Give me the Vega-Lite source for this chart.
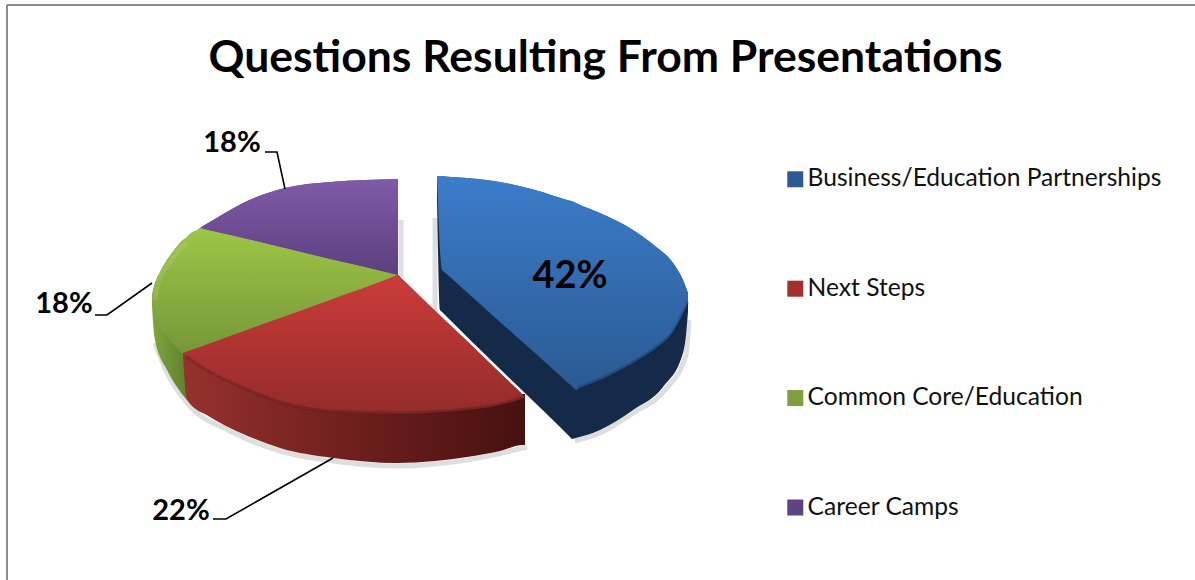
{
  "$schema": "https://vega.github.io/schema/vega-lite/v6.json",
  "width": 1195,
  "height": 580,
  "autosize": "none",
  "padding": 0,
  "background": "white",
  "view": {"stroke": null},
  "title": {
    "text": "Questions Resulting From Presentations",
    "font": "Lato",
    "fontWeight": "bold",
    "fontSize": 44.5,
    "color": "#000000",
    "anchor": "middle",
    "baseline": "alphabetic",
    "dx": 8,
    "offset": -116
  },
  "datasets": {
    "outline": [
      {"slice": "Green side", "x": 152, "y": 298, "y2": 305},
      {"slice": "Green side", "x": 153, "y": 296, "y2": 322},
      {"slice": "Green side", "x": 155, "y": 300, "y2": 340},
      {"slice": "Green side", "x": 167, "y": 315, "y2": 370},
      {"slice": "Green side", "x": 177, "y": 325, "y2": 387},
      {"slice": "Green side", "x": 187, "y": 335, "y2": 400},

      {"slice": "Red side", "x": 183, "y": 353, "y2": 353},
      {"slice": "Red side", "x": 184, "y": 350, "y2": 372},
      {"slice": "Red side", "x": 187, "y": 350, "y2": 400},
      {"slice": "Red side", "x": 210, "y": 365, "y2": 417},
      {"slice": "Red side", "x": 230, "y": 378, "y2": 428},
      {"slice": "Red side", "x": 255, "y": 389, "y2": 439},
      {"slice": "Red side", "x": 280, "y": 398, "y2": 448},
      {"slice": "Red side", "x": 333, "y": 407, "y2": 458},
      {"slice": "Red side", "x": 397, "y": 409, "y2": 463},
      {"slice": "Red side", "x": 435, "y": 408, "y2": 461},
      {"slice": "Red side", "x": 467, "y": 405, "y2": 457},
      {"slice": "Red side", "x": 500, "y": 400, "y2": 451},
      {"slice": "Red side", "x": 523, "y": 394, "y2": 445},
      {"slice": "Red side", "x": 525, "y": 394, "y2": 445},

      {"slice": "Common Core/Education", "x": 152, "y": 295, "y2": 300},
      {"slice": "Common Core/Education", "x": 155, "y": 283, "y2": 313},
      {"slice": "Common Core/Education", "x": 158, "y": 276, "y2": 323},
      {"slice": "Common Core/Education", "x": 167, "y": 260, "y2": 336},
      {"slice": "Common Core/Education", "x": 175, "y": 249, "y2": 346},
      {"slice": "Common Core/Education", "x": 183, "y": 240, "y2": 353},
      {"slice": "Common Core/Education", "x": 186, "y": 238, "y2": 352},
      {"slice": "Common Core/Education", "x": 190, "y": 234, "y2": 350.5},
      {"slice": "Common Core/Education", "x": 198, "y": 229.5, "y2": 347.7},
      {"slice": "Common Core/Education", "x": 200, "y": 228, "y2": 347},
      {"slice": "Common Core/Education", "x": 202, "y": 228.5, "y2": 346.3},
      {"slice": "Common Core/Education", "x": 210, "y": 230.4, "y2": 343.4},
      {"slice": "Common Core/Education", "x": 300, "y": 251.7, "y2": 310.6},
      {"slice": "Common Core/Education", "x": 390, "y": 273, "y2": 278},
      {"slice": "Common Core/Education", "x": 398, "y": 275, "y2": 275},

      {"slice": "Next Steps", "x": 183, "y": 353, "y2": 353},
      {"slice": "Next Steps", "x": 186, "y": 352, "y2": 356},
      {"slice": "Next Steps", "x": 190, "y": 350.5, "y2": 360},
      {"slice": "Next Steps", "x": 200, "y": 347, "y2": 367},
      {"slice": "Next Steps", "x": 230, "y": 336, "y2": 383},
      {"slice": "Next Steps", "x": 255, "y": 327, "y2": 394},
      {"slice": "Next Steps", "x": 280, "y": 318, "y2": 403},
      {"slice": "Next Steps", "x": 330, "y": 300, "y2": 412},
      {"slice": "Next Steps", "x": 390, "y": 278, "y2": 414},
      {"slice": "Next Steps", "x": 395, "y": 276, "y2": 414},
      {"slice": "Next Steps", "x": 398, "y": 275, "y2": 414},
      {"slice": "Next Steps", "x": 401, "y": 278, "y2": 414},
      {"slice": "Next Steps", "x": 410, "y": 286.5, "y2": 414},
      {"slice": "Next Steps", "x": 430, "y": 306, "y2": 413},
      {"slice": "Next Steps", "x": 467, "y": 341, "y2": 410},
      {"slice": "Next Steps", "x": 500, "y": 373, "y2": 405},
      {"slice": "Next Steps", "x": 518, "y": 390, "y2": 400},
      {"slice": "Next Steps", "x": 523, "y": 395, "y2": 398},
      {"slice": "Next Steps", "x": 525, "y": 397, "y2": 397},

      {"slice": "Career Camps", "x": 200, "y": 228, "y2": 228},
      {"slice": "Career Camps", "x": 203, "y": 226, "y2": 228.7},
      {"slice": "Career Camps", "x": 215, "y": 219, "y2": 231.6},
      {"slice": "Career Camps", "x": 243, "y": 203, "y2": 238},
      {"slice": "Career Camps", "x": 285, "y": 188, "y2": 248},
      {"slice": "Career Camps", "x": 330, "y": 182, "y2": 259},
      {"slice": "Career Camps", "x": 365, "y": 180, "y2": 267},
      {"slice": "Career Camps", "x": 398, "y": 179, "y2": 275},

      {"slice": "Blue side", "x": 437, "y": 176, "y2": 200},
      {"slice": "Blue side", "x": 440, "y": 180, "y2": 310},
      {"slice": "Blue side", "x": 442, "y": 200, "y2": 312},
      {"slice": "Blue side", "x": 445, "y": 210, "y2": 315},
      {"slice": "Blue side", "x": 500, "y": 250, "y2": 369},
      {"slice": "Blue side", "x": 560, "y": 300, "y2": 427},
      {"slice": "Blue side", "x": 570, "y": 320, "y2": 437},
      {"slice": "Blue side", "x": 572, "y": 320, "y2": 439},
      {"slice": "Blue side", "x": 574, "y": 320, "y2": 438.5},
      {"slice": "Blue side", "x": 600, "y": 320, "y2": 430},
      {"slice": "Blue side", "x": 633, "y": 320, "y2": 410},
      {"slice": "Blue side", "x": 663, "y": 315, "y2": 387},
      {"slice": "Blue side", "x": 683, "y": 300, "y2": 353},
      {"slice": "Blue side", "x": 686, "y": 300, "y2": 335},
      {"slice": "Blue side", "x": 688, "y": 300, "y2": 312},

      {"slice": "Business/Education Partnerships", "x": 437, "y": 176, "y2": 176},
      {"slice": "Business/Education Partnerships", "x": 442, "y": 176, "y2": 270},
      {"slice": "Business/Education Partnerships", "x": 444, "y": 176.3, "y2": 271.8},
      {"slice": "Business/Education Partnerships", "x": 460, "y": 177.5, "y2": 286},
      {"slice": "Business/Education Partnerships", "x": 500, "y": 182, "y2": 322},
      {"slice": "Business/Education Partnerships", "x": 535, "y": 190, "y2": 353},
      {"slice": "Business/Education Partnerships", "x": 567, "y": 200, "y2": 382},
      {"slice": "Business/Education Partnerships", "x": 574, "y": 202, "y2": 388.2},
      {"slice": "Business/Education Partnerships", "x": 576, "y": 203, "y2": 390},
      {"slice": "Business/Education Partnerships", "x": 578, "y": 204, "y2": 389},
      {"slice": "Business/Education Partnerships", "x": 600, "y": 213, "y2": 380},
      {"slice": "Business/Education Partnerships", "x": 633, "y": 230, "y2": 363},
      {"slice": "Business/Education Partnerships", "x": 655, "y": 246, "y2": 349},
      {"slice": "Business/Education Partnerships", "x": 673, "y": 263, "y2": 332},
      {"slice": "Business/Education Partnerships", "x": 683, "y": 280, "y2": 314},
      {"slice": "Business/Education Partnerships", "x": 688, "y": 293, "y2": 303}
    ],
    "shadows": [
      {"part": "front", "x": 155, "y": 343},
      {"part": "front", "x": 167, "y": 373},
      {"part": "front", "x": 187, "y": 403},
      {"part": "front", "x": 230, "y": 431},
      {"part": "front", "x": 280, "y": 451},
      {"part": "front", "x": 333, "y": 461},
      {"part": "front", "x": 397, "y": 466},
      {"part": "front", "x": 467, "y": 460},
      {"part": "front", "x": 527, "y": 447},
      {"part": "gap left", "x": 401, "y": 220},
      {"part": "gap left", "x": 401, "y": 277},
      {"part": "gap right", "x": 435, "y": 218},
      {"part": "gap right", "x": 435, "y": 313},
      {"part": "blue edge", "x": 575, "y": 441},
      {"part": "blue edge", "x": 600, "y": 433},
      {"part": "blue edge", "x": 633, "y": 413},
      {"part": "blue edge", "x": 665, "y": 390},
      {"part": "blue edge", "x": 686, "y": 355},
      {"part": "blue edge", "x": 689, "y": 320}
    ],
    "rims": [
      {"part": "blue front", "tone": "dark", "x": 578, "y": 388},
      {"part": "blue front", "tone": "dark", "x": 600, "y": 379},
      {"part": "blue front", "tone": "dark", "x": 633, "y": 362},
      {"part": "blue front", "tone": "dark", "x": 655, "y": 348},
      {"part": "blue front", "tone": "dark", "x": 673, "y": 331},
      {"part": "blue front", "tone": "dark", "x": 683, "y": 313},
      {"part": "blue front", "tone": "dark", "x": 688, "y": 302},
      {"part": "red front", "tone": "dark", "x": 186, "y": 356},
      {"part": "red front", "tone": "dark", "x": 200, "y": 366},
      {"part": "red front", "tone": "dark", "x": 230, "y": 382},
      {"part": "red front", "tone": "dark", "x": 255, "y": 393},
      {"part": "red front", "tone": "dark", "x": 280, "y": 402},
      {"part": "red front", "tone": "dark", "x": 330, "y": 411},
      {"part": "red front", "tone": "dark", "x": 398, "y": 413},
      {"part": "red front", "tone": "dark", "x": 430, "y": 412},
      {"part": "red front", "tone": "dark", "x": 467, "y": 409},
      {"part": "red front", "tone": "dark", "x": 500, "y": 404},
      {"part": "red front", "tone": "dark", "x": 523, "y": 397},
      {"part": "green left", "tone": "light", "x": 155, "y": 300},
      {"part": "green left", "tone": "light", "x": 158, "y": 283},
      {"part": "green left", "tone": "light", "x": 170, "y": 262},
      {"part": "green left", "tone": "light", "x": 186, "y": 243}
    ],
    "leaders": [
      {"label": "top", "x": 265, "y": 152, "step": 1},
      {"label": "top", "x": 277, "y": 152, "step": 2},
      {"label": "top", "x": 285, "y": 189, "step": 3},
      {"label": "left", "x": 95, "y": 315, "step": 1},
      {"label": "left", "x": 107, "y": 315, "step": 2},
      {"label": "left", "x": 152, "y": 283, "step": 3},
      {"label": "bottom", "x": 213, "y": 519, "step": 1},
      {"label": "bottom", "x": 226, "y": 519, "step": 2},
      {"label": "bottom", "x": 333, "y": 458, "step": 3}
    ],
    "shares": [
      {"slice": "Business/Education Partnerships", "share": 0.42, "x": 570, "y": 277, "big": true},
      {"slice": "Next Steps", "share": 0.22, "x": 181, "y": 511, "big": false},
      {"slice": "Common Core/Education", "share": 0.18, "x": 64, "y": 304, "big": false},
      {"slice": "Career Camps", "share": 0.18, "x": 232, "y": 143, "big": false}
    ],
    "frame": [
      {"x": 7, "x2": 7, "y": 5, "y2": 580},
      {"x": 7, "x2": 1195, "y": 5, "y2": 5}
    ]
  },
  "encoding": {
    "x": {"field": "x", "type": "quantitative", "axis": null, "scale": {"domain": [0, 1195], "range": [0, 1195]}},
    "y": {"field": "y", "type": "quantitative", "axis": null, "scale": {"domain": [0, 580], "range": [0, 580]}}
  },
  "layer": [
    {
      "data": {"name": "frame"},
      "mark": {"type": "rule", "color": "#8c8c8c", "strokeWidth": 2},
      "encoding": {"x2": {"field": "x2"}, "y2": {"field": "y2"}}
    },
    {
      "data": {"name": "shadows"},
      "mark": {"type": "line", "color": "#000000", "opacity": 0.13, "strokeWidth": 5, "interpolate": "monotone"},
      "encoding": {"detail": {"field": "part"}}
    },
    {
      "data": {"name": "outline"},
      "transform": [{"filter": "indexof(['Business/Education Partnerships','Next Steps','Common Core/Education','Career Camps'], datum.slice) >= 0"}],
      "mark": {"type": "area", "interpolate": "monotone"},
      "encoding": {
        "y2": {"field": "y2"},
        "color": {
          "field": "slice",
          "type": "nominal",
          "scale": {
            "domain": ["Business/Education Partnerships", "Next Steps", "Common Core/Education", "Career Camps"],
            "range": ["#2C5A94", "#A52F2D", "#7F9F3C", "#5F4285"]
          },
          "legend": {
            "title": null,
            "orient": "none",
            "legendX": 783,
            "legendY": 167,
            "padding": 0,
            "symbolType": "square",
            "symbolSize": 256,
            "symbolStrokeWidth": 0,
            "labelFont": "Lato",
            "labelFontSize": 24.6,
            "labelColor": "#111111",
            "labelOffset": 0,
            "labelLimit": 420,
            "rowPadding": 84.4
          }
        }
      }
    },
    {
      "data": {"name": "outline"},
      "transform": [{"filter": "datum.slice === 'Green side'"}],
      "mark": {"type": "area", "interpolate": "monotone", "color": {"gradient": "linear", "x1": 0, "y1": 0, "x2": 1, "y2": 0, "stops": [{"offset": 0, "color": "#7FA63C"}, {"offset": 1, "color": "#5F8030"}]}},
      "encoding": {"y2": {"field": "y2"}}
    },
    {
      "data": {"name": "outline"},
      "transform": [{"filter": "datum.slice === 'Red side'"}],
      "mark": {"type": "area", "interpolate": "monotone", "color": {"gradient": "linear", "x1": 0, "y1": 0, "x2": 1, "y2": 0, "stops": [{"offset": 0, "color": "#96312D"}, {"offset": 0.5, "color": "#6E1F1D"}, {"offset": 1, "color": "#451110"}]}},
      "encoding": {"y2": {"field": "y2"}}
    },
    {
      "data": {"name": "outline"},
      "transform": [{"filter": "datum.slice === 'Common Core/Education'"}],
      "mark": {"type": "area", "interpolate": "monotone", "color": {"gradient": "linear", "x1": 0, "y1": 0, "x2": 0, "y2": 1, "stops": [{"offset": 0, "color": "#9DC646"}, {"offset": 1, "color": "#769739"}]}},
      "encoding": {"y2": {"field": "y2"}}
    },
    {
      "data": {"name": "outline"},
      "transform": [{"filter": "datum.slice === 'Next Steps'"}],
      "mark": {"type": "area", "interpolate": "monotone", "color": {"gradient": "linear", "x1": 0, "y1": 0, "x2": 0, "y2": 1, "stops": [{"offset": 0, "color": "#CB3C3A"}, {"offset": 1, "color": "#932C2A"}]}},
      "encoding": {"y2": {"field": "y2"}}
    },
    {
      "data": {"name": "outline"},
      "transform": [{"filter": "datum.slice === 'Career Camps'"}],
      "mark": {"type": "area", "interpolate": "monotone", "color": {"gradient": "linear", "x1": 0, "y1": 0, "x2": 0, "y2": 1, "stops": [{"offset": 0, "color": "#805BA8"}, {"offset": 1, "color": "#5D3F80"}]}},
      "encoding": {"y2": {"field": "y2"}}
    },
    {
      "data": {"name": "outline"},
      "transform": [{"filter": "datum.slice === 'Blue side'"}],
      "mark": {"type": "area", "interpolate": "monotone", "color": "#152A48"},
      "encoding": {"y2": {"field": "y2"}}
    },
    {
      "data": {"name": "outline"},
      "transform": [{"filter": "datum.slice === 'Business/Education Partnerships'"}],
      "mark": {"type": "area", "interpolate": "monotone", "color": {"gradient": "linear", "x1": 0, "y1": 0, "x2": 0, "y2": 1, "stops": [{"offset": 0, "color": "#3C7CC9"}, {"offset": 1, "color": "#2A5A93"}]}},
      "encoding": {"y2": {"field": "y2"}}
    },
    {
      "data": {"name": "rims"},
      "transform": [{"filter": "datum.tone === 'dark'"}],
      "mark": {"type": "line", "color": "#000000", "opacity": 0.18, "strokeWidth": 3, "interpolate": "monotone"},
      "encoding": {"detail": {"field": "part"}}
    },
    {
      "data": {"name": "rims"},
      "transform": [{"filter": "datum.tone === 'light'"}],
      "mark": {"type": "line", "color": "#FFFFFF", "opacity": 0.1, "strokeWidth": 5, "interpolate": "monotone"},
      "encoding": {"detail": {"field": "part"}}
    },
    {
      "data": {"name": "leaders"},
      "mark": {"type": "line", "color": "#000000", "strokeWidth": 1.6},
      "encoding": {"detail": {"field": "label"}, "order": {"field": "step"}}
    },
    {
      "data": {"name": "shares"},
      "transform": [{"filter": "!datum.big"}],
      "mark": {"type": "text", "font": "Lato", "fontWeight": "bold", "fontSize": 29, "color": "#000000", "align": "center", "baseline": "middle"},
      "encoding": {"text": {"field": "share", "type": "quantitative", "format": ".0%"}}
    },
    {
      "data": {"name": "shares"},
      "transform": [{"filter": "datum.big"}],
      "mark": {"type": "text", "font": "Lato", "fontWeight": "bold", "fontSize": 38, "color": "#000000", "align": "center", "baseline": "middle"},
      "encoding": {"text": {"field": "share", "type": "quantitative", "format": ".0%"}}
    }
  ]
}
